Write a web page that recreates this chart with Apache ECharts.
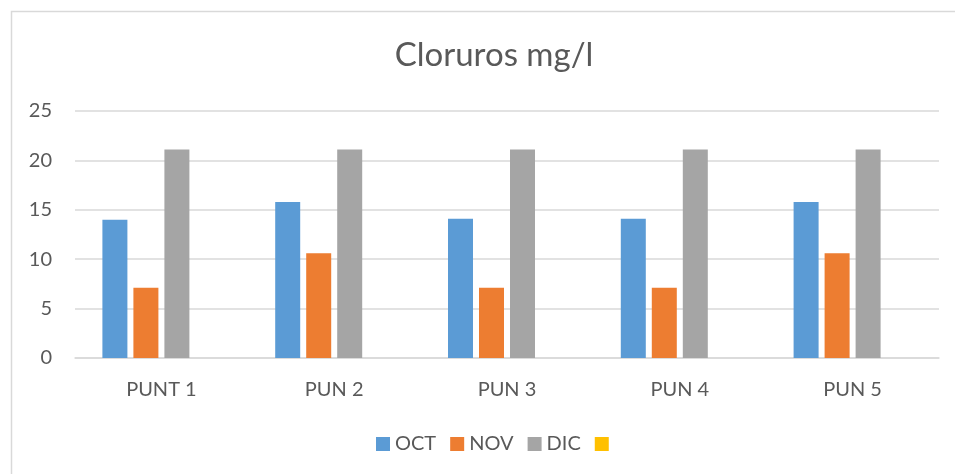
<!DOCTYPE html>
<html>
<head>
<meta charset="utf-8">
<script src="https://cdn.jsdelivr.net/npm/echarts@6/dist/echarts.min.js"></script>
<style>
  html, body { margin: 0; padding: 0; background: #fff; }
  #chart { width: 955px; height: 474px; }
</style>
</head>
<body>
<div id="chart"></div>
<script>
    // puntos de muestreo
    let categorias = ['PUNT 1', 'PUN 2', 'PUN 3', 'PUN 4', 'PUN 5'];
    let oct = [14.0, 15.8, 14.1, 14.1, 15.8];
    let nov = [7.1, 10.6, 7.1, 7.1, 10.6];
    let dic = [21.1, 21.1, 21.1, 21.1, 21.1];
    let vacio = [null, null, null, null, null];   // serie sin datos (amarilla)
    let yTicks = [0, 5, 10, 15, 20, 25];

    let fuente = 'Lato';
    let gris = '#595959';

    let series = [
        { name: 'OCT', data: oct, color: '#5B9BD5' },
        { name: 'NOV', data: nov, color: '#ED7D31' },
        { name: 'DIC', data: dic, color: '#A5A5A5' },
        { name: ' ', data: vacio, color: '#FFC000' }
    ].map(function (s) {
        return {
            name: s.name,
            type: 'bar',
            data: s.data,
            barWidth: 25,
            barGap: '24%',
            itemStyle: { color: s.color },
            animation: false
        };
    });

    let chart = echarts.init(document.getElementById('chart'));
    let option = {
        backgroundColor: '#fff',
        textStyle: { fontFamily: fuente },
        title: {
            text: 'Cloruros mg/l',
            left: 489,
            textAlign: 'center',
            top: 34,
            textStyle: { fontFamily: fuente, fontSize: 33, fontWeight: 'normal', color: gris }
        },
        legend: {
            left: 371,
            top: 429,
            itemWidth: 14,
            itemHeight: 14,
            itemGap: 14,
            icon: 'rect',
            textStyle: { fontFamily: fuente, fontSize: 20, color: gris },
            data: series.map(function (s) { return s.name; })
        },
        grid: { left: 75, right: 16, top: 111, bottom: 116 },
        xAxis: {
            type: 'category',
            data: categorias,
            axisLine: { lineStyle: { color: '#D9D9D9', width: 1.5 } },
            axisTick: { show: false },
            axisLabel: { fontFamily: fuente, fontSize: 20, color: gris, margin: 22 }
        },
        yAxis: {
            type: 'value',
            min: yTicks[0],
            max: yTicks[yTicks.length - 1],
            interval: 5,
            axisLine: { show: false },
            axisTick: { show: false },
            axisLabel: { fontFamily: fuente, fontSize: 20, color: gris, margin: 23 },
            splitLine: { lineStyle: { color: '#D9D9D9', width: 1.5 } }
        },
        graphic: [{
            type: 'rect',
            silent: true,
            shape: { x: 11.5, y: 11.5, width: 1000, height: 1000 },
            style: { fill: 'none', stroke: '#D9D9D9', lineWidth: 1.5 }
        }],
        series: series
    };
    chart.setOption(option, true);
    window.addEventListener('resize', function () {
        chart.resize();
    });
</script>
</body>
</html>
